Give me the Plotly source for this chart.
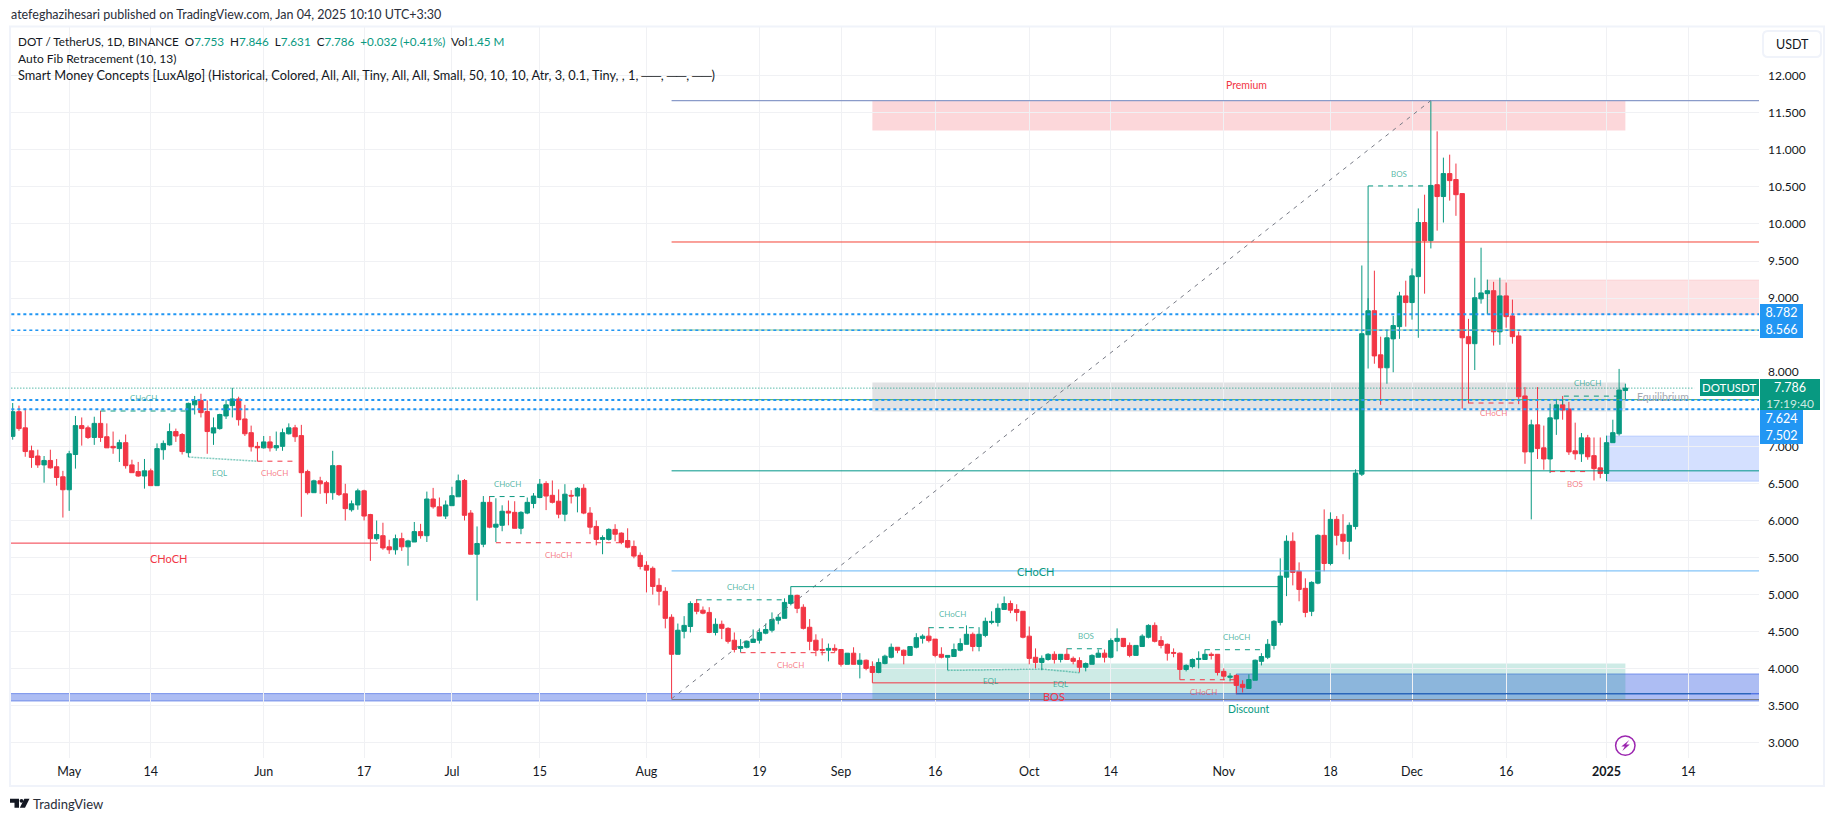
import pandas as pd
import plotly.graph_objects as go

W, H = 1835, 821
PL, PR, PT, PB = 10, 1759, 27, 757.7

first_day = "2024-04-22"
opens = [7.135,7.468,7.25,6.94,6.87,6.75,6.81,6.725,6.59,6.415,
6.89,7.28,7.25,7.12,7.31,7.13,7.0,6.97,7.05,6.75,
6.66,6.60,6.67,6.47,6.955,7.02,7.20,7.16,6.915,7.56,
7.62,7.47,7.18,7.24,7.41,7.55,7.64,7.37,7.185,7.0,
6.98,7.06,6.98,7.0,7.17,7.25,7.145,6.66,6.375,6.535,
6.51,6.375,6.74,6.36,6.145,6.21,6.40,6.08,5.755,5.795,
5.645,5.605,5.755,5.645,5.71,5.85,5.795,6.29,6.185,6.06,
6.2,6.32,6.54,6.10,5.545,5.68,6.245,5.91,5.935,6.125,
6.11,5.895,6.10,6.23,6.31,6.50,6.34,6.26,6.085,6.34,
6.33,6.435,6.10,5.92,5.745,5.745,5.88,5.83,5.73,5.65,
5.53,5.395,5.355,5.125,5.045,4.695,4.195,4.505,4.57,4.88,
4.79,4.76,4.49,4.60,4.545,4.385,4.275,4.29,4.355,4.385,
4.48,4.52,4.655,4.68,4.88,4.99,4.83,4.56,4.385,4.26,
4.25,4.275,4.26,4.06,4.21,4.06,4.115,4.03,3.95,4.07,
4.155,4.29,4.25,4.18,4.29,4.41,4.44,4.40,4.195,4.155,
4.165,4.25,4.33,4.465,4.30,4.45,4.625,4.625,4.80,4.88,
4.80,4.775,4.44,4.155,4.085,4.125,4.195,4.125,4.195,4.14,
4.11,4.02,4.06,4.155,4.21,4.155,4.37,4.41,4.315,4.18,
4.30,4.425,4.585,4.38,4.33,4.22,4.21,3.99,4.03,4.125,
4.125,4.195,4.195,3.965,3.885,3.91,3.79,3.735,3.845,4.10,
4.155,4.315,4.625,5.235,5.72,5.315,5.085,4.775,5.155,5.80,
5.42,6.015,5.815,5.72,5.92,6.625,8.506,8.83,8.235,8.06,
8.45,8.615,9.03,8.94,9.29,10.02,9.775,10.53,10.37,10.68,
10.6,10.41,8.48,8.385,8.99,9.06,9.10,8.545,9.03,8.76,
8.49,7.68,6.925,7.29,6.98,6.83,7.37,7.56,7.505,6.94,
6.90,7.115,6.875,6.71,6.635,7.05,7.17,7.753]
highs = [7.585,7.55,7.51,7.01,6.955,6.87,6.955,6.83,6.67,6.94,
7.41,7.39,7.28,7.40,7.48,7.31,7.20,7.09,7.16,6.82,
6.79,6.83,6.70,7.04,7.08,7.31,7.24,7.18,7.59,7.68,
7.71,7.62,7.39,7.44,7.63,7.79,7.67,7.56,7.28,7.06,
7.14,7.14,7.20,7.24,7.31,7.29,7.29,6.685,6.55,6.59,
6.535,6.94,6.75,6.495,6.27,6.43,6.415,6.09,6.0,5.97,
5.74,5.81,5.835,5.74,5.98,5.955,6.39,6.44,6.31,6.27,
6.455,6.62,6.56,6.14,5.92,6.33,6.33,6.30,6.205,6.27,
6.26,6.125,6.31,6.37,6.56,6.53,6.54,6.42,6.49,6.41,
6.45,6.49,6.18,6.0,5.80,5.895,5.95,5.84,5.895,5.73,
5.57,5.45,5.38,5.22,5.10,4.735,4.61,4.71,4.91,4.94,
4.84,4.83,4.68,4.65,4.56,4.49,4.40,4.385,4.53,4.545,
4.61,4.76,4.735,4.95,5.11,5.0,4.87,4.67,4.465,4.41,
4.34,4.33,4.26,4.21,4.29,4.21,4.125,4.10,4.14,4.19,
4.34,4.29,4.26,4.30,4.48,4.465,4.56,4.40,4.29,4.18,
4.34,4.41,4.585,4.49,4.56,4.69,4.775,4.88,4.975,4.92,
4.87,4.775,4.57,4.275,4.18,4.21,4.235,4.195,4.275,4.165,
4.155,4.085,4.195,4.26,4.26,4.41,4.545,4.41,4.355,4.315,
4.465,4.60,4.625,4.44,4.34,4.275,4.22,4.06,4.14,4.235,
4.26,4.22,4.195,4.005,3.94,3.925,3.845,3.925,4.125,4.21,
4.40,4.655,5.49,5.80,5.84,5.435,5.22,5.18,5.815,6.15,
6.11,6.06,6.085,5.975,6.69,9.44,9.0,9.37,8.48,8.575,
8.76,9.085,9.235,9.40,10.21,10.395,11.665,11.25,10.895,10.935,
10.815,10.41,8.72,9.275,9.68,9.25,9.22,9.275,9.21,8.98,
8.55,7.80,7.36,7.80,7.28,7.575,7.64,7.68,7.60,7.32,
7.18,7.155,7.12,7.12,7.145,7.36,8.045,7.846]
lows = [7.09,7.21,6.86,6.71,6.71,6.51,6.70,6.47,6.04,6.13,
6.70,7.01,7.10,7.02,7.06,6.98,6.90,6.79,6.70,6.645,
6.59,6.43,6.47,6.47,6.82,7.01,7.06,6.89,6.855,7.43,
7.39,6.90,7.02,7.225,7.37,7.39,7.28,7.14,6.93,6.80,
6.97,6.93,6.94,6.94,7.16,7.06,6.05,6.35,6.375,6.36,
6.225,6.28,6.33,6.0,6.12,6.145,6.0,5.455,5.73,5.605,
5.55,5.54,5.59,5.39,5.71,5.755,5.71,6.16,6.06,6.02,
6.2,6.32,6.0,5.545,4.92,5.64,5.895,5.71,5.855,5.935,
5.895,5.815,6.085,6.165,6.30,6.14,6.23,6.03,5.99,6.23,
6.11,6.085,5.815,5.665,5.545,5.73,5.72,5.68,5.625,5.49,
5.34,5.03,5.0,4.855,4.545,3.595,4.195,4.41,4.49,4.735,
4.735,4.48,4.45,4.40,4.34,4.22,4.22,4.275,4.355,4.34,
4.465,4.49,4.60,4.68,4.855,4.75,4.53,4.25,4.17,4.18,
4.10,4.22,4.03,4.06,4.06,3.87,3.98,3.94,3.94,4.06,
4.14,4.21,4.06,4.18,4.275,4.34,4.355,4.155,4.14,3.98,
4.165,4.235,4.33,4.235,4.235,4.425,4.60,4.57,4.80,4.75,
4.64,4.41,4.06,4.005,3.98,4.11,4.07,4.085,4.125,4.06,
3.95,3.965,4.06,4.155,4.085,4.14,4.235,4.29,4.155,4.18,
4.30,4.41,4.355,4.275,4.11,4.155,3.99,3.965,4.005,4.005,
4.125,4.125,3.91,3.845,3.83,3.655,3.68,3.735,3.845,4.045,
4.13,4.26,4.585,4.98,5.125,4.91,4.695,4.71,5.14,5.315,
5.395,5.665,5.545,5.475,5.88,6.6,8.05,8.115,7.56,7.845,
8.0,8.45,8.615,8.71,8.465,9.06,9.67,9.91,10.02,10.315,
10.11,7.51,7.58,8.03,8.925,8.78,8.36,8.37,8.60,8.385,
7.57,6.765,6.015,6.83,6.685,6.64,7.155,7.36,6.885,6.82,
6.79,6.82,6.54,6.57,6.53,7.05,7.145,7.631]
closes = [7.468,7.24,6.93,6.85,6.75,6.81,6.71,6.58,6.415,6.90,
7.28,7.24,7.12,7.31,7.12,6.98,6.98,7.05,6.74,6.645,
6.60,6.67,6.47,6.97,7.04,7.20,7.14,6.93,7.58,7.62,
7.455,7.20,7.25,7.43,7.56,7.64,7.36,7.17,6.995,6.98,
7.06,6.98,7.01,7.185,7.25,7.13,6.645,6.375,6.535,6.495,
6.375,6.74,6.35,6.16,6.225,6.40,6.06,5.755,5.81,5.63,
5.605,5.755,5.645,5.725,5.85,5.795,6.29,6.185,6.06,6.21,
6.335,6.535,6.07,5.545,5.69,6.245,5.91,5.95,6.125,6.10,
5.895,6.11,6.245,6.33,6.49,6.33,6.245,6.085,6.355,6.33,
6.435,6.10,5.91,5.745,5.77,5.88,5.815,5.705,5.64,5.52,
5.38,5.33,5.11,5.045,4.68,4.195,4.52,4.585,4.88,4.775,
4.75,4.49,4.60,4.545,4.37,4.26,4.30,4.37,4.40,4.49,
4.53,4.665,4.695,4.895,4.99,4.815,4.545,4.37,4.25,4.25,
4.275,4.25,4.06,4.21,4.06,4.115,4.005,3.95,4.085,4.17,
4.29,4.25,4.18,4.30,4.42,4.44,4.38,4.18,4.155,4.18,
4.26,4.34,4.465,4.30,4.465,4.64,4.64,4.815,4.88,4.79,
4.76,4.425,4.14,4.085,4.14,4.195,4.125,4.195,4.125,4.10,
4.02,4.07,4.18,4.21,4.155,4.38,4.41,4.30,4.18,4.315,
4.44,4.585,4.37,4.315,4.21,4.21,3.99,4.045,4.125,4.14,
4.195,4.18,3.95,3.90,3.90,3.775,3.75,3.855,4.115,4.165,
4.33,4.64,5.25,5.72,5.30,5.07,4.76,5.165,5.80,5.42,
6.015,5.80,5.72,5.935,6.64,8.52,8.83,8.22,8.06,8.465,
8.63,9.03,8.94,9.30,10.02,9.775,10.52,10.37,10.68,10.585,
10.395,8.465,8.385,9.005,9.07,9.10,8.545,9.03,8.75,8.48,
7.67,6.925,7.29,6.97,6.83,7.385,7.56,7.49,6.925,6.90,
7.115,6.86,6.70,6.635,7.05,7.185,7.76,7.786]

tick_dates = ["2024-05-01","2024-05-14","2024-06-01","2024-06-17","2024-07-01","2024-07-15",
              "2024-08-01","2024-08-19","2024-09-01","2024-09-16","2024-10-01","2024-10-14",
              "2024-11-01","2024-11-18","2024-12-01","2024-12-16","2025-01-01","2025-01-14"]
tick_labels = ["May","14","Jun","17","Jul","15","Aug","19","Sep","16","Oct","14","Nov","18","Dec","16","<b>2025</b>","14"]
price_ticks = [3+0.5*i for i in range(19)]
hidden_price_labels = [7.5, 8.5]  # covered by the price tags in the reference

GREEN, RED = "#089981", "#F23645"
BLUE = "#2196F3"
FONT = "Lato"
INK = "#131722"

# zones: first bar, last bar, low price, high price, fill, outline
END = 300
zones = [
    (195, END, 3.66, 3.93, "rgba(49,90,224,0.4)", "rgba(49,90,224,0.55)"),
    (-5, END, 3.565, 3.665, "rgba(49,90,224,0.4)", "rgba(49,90,224,0.55)"),
    (137, 257, 11.26, 11.665, "rgba(242,54,69,0.2)", "rgba(0,0,0,0)"),
    (137, 257, 7.47, 7.86, "rgba(120,123,134,0.22)", "rgba(0,0,0,0)"),
    (137, 257, 3.59, 4.07, "rgba(8,153,129,0.2)", "rgba(0,0,0,0)"),
    (235, END, 8.78, 9.245, "rgba(242,54,69,0.15)", "rgba(242,54,69,0.12)"),
    (254, END, 6.53, 7.14, "rgba(41,98,255,0.2)", "rgba(41,98,255,0.2)"),
]
# lines: bars, prices, colour, width, dash
lines = [
    ([105, END], [11.665, 11.665], "#8A9BC9", 1.2, "solid"),
    ([105, END], [9.757, 9.757], "#F44336", 1, "solid"),
    ([105, END], [8.57, 8.57], "#81C784", 1, "solid"),
    ([105, END], [7.63, 7.63], "#4CAF50", 1, "solid"),
    ([105, END], [6.67, 6.67], "#009688", 1, "solid"),
    ([105, END], [5.32, 5.32], "#64B5F6", 1, "solid"),
    ([105, END], [3.585, 3.585], "#787B86", 1, "solid"),
    ([195, 277], [3.665, 3.665], "#2A66B8", 1.2, "solid"),
    ([105, 226], [3.595, 11.665], "#787B86", 1, "4px,5px"),
    ([-5, END], [8.782, 8.782], BLUE, 2, "3px,3px"),
    ([-5, END], [8.566, 8.566], BLUE, 1.5, "3px,3px"),
    ([-5, END], [7.624, 7.624], BLUE, 2, "3px,3px"),
    ([-5, END], [7.502, 7.502], BLUE, 2, "3px,3px"),
    ([-5, 268], [7.786, 7.786], GREEN, 1, "1px,2px"),
    ([-5, 58.2], [5.695, 5.695], RED, 1, "solid"),
    ([14, 28], [7.477, 7.477], GREEN, 1, "5px,5px"),
    ([39, 45], [6.80, 6.80], RED, 1, "5px,5px"),
    ([76, 82], [6.323, 6.323], GREEN, 1, "5px,5px"),
    ([77, 97], [5.70, 5.70], RED, 1, "5px,5px"),
    ([109, 123], [4.93, 4.93], GREEN, 1, "5px,5px"),
    ([124, 202], [5.108, 5.108], GREEN, 1, "solid"),
    ([116, 131], [4.217, 4.217], RED, 1, "5px,5px"),
    ([146, 154], [4.554, 4.554], GREEN, 1, "5px,5px"),
    ([168, 174], [4.27, 4.27], GREEN, 1, "5px,5px"),
    ([190, 200], [4.257, 4.257], GREEN, 1, "5px,5px"),
    ([137, 137, 195], [3.95, 3.81, 3.81], RED, 1, "solid"),
    ([186, 186], [3.99, 3.852], RED, 1, "solid"),
    ([186, 195], [3.852, 3.852], RED, 1, "5px,5px"),
    ([216, 216], [10.513, 8.83], GREEN, 1, "solid"),
    ([216, 226], [10.513, 10.513], GREEN, 1, "5px,5px"),
    ([232, 240], [7.585, 7.585], RED, 1, "5px,5px"),
    ([247, 247, 256], [7.56, 7.678, 7.678], GREEN, 1, "5px,5px"),
    ([245, 251], [6.66, 6.66], RED, 1, "5px,5px"),
    ([28, 39], [6.856, 6.80], "rgba(8,153,129,0.5)", 1.5, "2px,1px"),
    ([149, 164], [3.978, 3.996], "rgba(8,153,129,0.5)", 1.5, "2px,1px"),
    ([164, 170], [3.996, 3.947], "rgba(8,153,129,0.5)", 1.5, "2px,1px"),
]
GL, RL = "rgba(8,153,129,0.7)", "rgba(242,54,69,0.65)"
# labels: bar, price, text, colour, size, anchor
labels = [
    (24.9, 5.49, "CHoCH", RED, 11, "center"), (20.9, 7.65, "CHoCH", GL, 8, "center"),
    (33, 6.64, "EQL", GL, 8, "center"), (41.8, 6.64, "CHoCH", RL, 8, "center"),
    (78.9, 6.49, "CHoCH", GL, 8, "center"), (87, 5.54, "CHoCH", RL, 8, "center"),
    (116, 5.10, "CHoCH", GL, 8, "center"), (124, 4.057, "CHoCH", RL, 8, "center"),
    (163, 5.306, "CHoCH", GREEN, 11, "center"), (149.8, 4.735, "CHoCH", GL, 8, "center"),
    (171, 4.44, "BOS", GL, 8, "center"), (195, 4.425, "CHoCH", GL, 8, "center"),
    (165.9, 3.63, "BOS", RED, 11, "center"), (155.9, 3.84, "EQL", GL, 8, "center"),
    (166.9, 3.795, "EQL", GL, 8, "center"), (189.8, 3.69, "CHoCH", RL, 8, "center"),
    (220.9, 10.68, "BOS", GL, 8, "center"), (236, 7.444, "CHoCH", RL, 8, "center"),
    (251, 7.86, "CHoCH", GL, 8, "center"), (249, 6.49, "BOS", RL, 8, "center"),
    (263, 7.67, "Equilibrium", "#A5A8B0", 10.5, "center"),
    (196.7, 11.88, "Premium", RED, 10.5, "center"), (197, 3.457, "Discount", GREEN, 10.5, "center"),
    (278.3, 11.82, "Weak Hi", RL, 7, "right"), (278.3, 3.50, "Strong L", GL, 7, "right"),
]

dates = pd.date_range(first_day, periods=len(opens), freq="D")
def bar_date(i):
    return pd.Timestamp(first_day) + pd.Timedelta(days=float(i))

def fx(px):
    return (px - PL) / (PR - PL)
def fy(py):
    return (PB - py) / (PB - PT)
def poly(points):
    return "M " + " L ".join(f"{fx(x):.5f} {fy(y):.5f}" for x, y in points) + " Z"

fig = go.Figure()
fig.add_trace(go.Candlestick(
    x=dates, open=opens, high=highs, low=lows, close=closes,
    increasing=dict(line=dict(color=GREEN, width=1), fillcolor=GREEN),
    decreasing=dict(line=dict(color=RED, width=1), fillcolor=RED),
    whiskerwidth=0, showlegend=False, hoverinfo="skip",
))
for bars, prices, color, width, dash in lines:
    fig.add_trace(go.Scatter(x=[bar_date(b) for b in bars], y=prices, mode="lines",
                             line=dict(color=color, width=width, dash=dash),
                             showlegend=False, hoverinfo="skip"))

shapes = [dict(type="rect", xref="x", yref="y", x0=bar_date(a), x1=bar_date(b), y0=lo, y1=hi,
               fillcolor=f, line=dict(color=l, width=1), layer="below")
          for a, b, lo, hi, f, l in zones]
# frame round the chart and the price scale
shapes.append(dict(type="rect", xref="paper", yref="paper", x0=fx(10), x1=fx(1824), y0=fy(785.8), y1=fy(26.5),
                   line=dict(color="#F0F3FA", width=2), fillcolor="rgba(0,0,0,0)"))
# currency button
bx0, bx1, by0, by1, r = 1763, 1821, 31, 57, 5
btn = (f"M {fx(bx0+r)} {fy(by0)} L {fx(bx1-r)} {fy(by0)} Q {fx(bx1)} {fy(by0)} {fx(bx1)} {fy(by0+r)} "
       f"L {fx(bx1)} {fy(by1-r)} Q {fx(bx1)} {fy(by1)} {fx(bx1-r)} {fy(by1)} L {fx(bx0+r)} {fy(by1)} "
       f"Q {fx(bx0)} {fy(by1)} {fx(bx0)} {fy(by1-r)} L {fx(bx0)} {fy(by0+r)} Q {fx(bx0)} {fy(by0)} {fx(bx0+r)} {fy(by0)} Z")
shapes.append(dict(type="path", xref="paper", yref="paper", path=btn, line=dict(color="#F0F3FA", width=2)))
# event icon
cx, cy = 1625.3, 745.3
shapes.append(dict(type="circle", xref="paper", yref="paper", x0=fx(cx-9.7), x1=fx(cx+9.7), y0=fy(cy+9.7), y1=fy(cy-9.7),
                   line=dict(color="#9C27B0", width=1.5), fillcolor="white"))
shapes.append(dict(type="path", xref="paper", yref="paper",
                   path=poly([(cx+4,cy-5.5),(cx-4,cy+1),(cx-0.5,cy+1),(cx-3,cy+5.5),(cx+4.5,cy-1),(cx+0.8,cy-1)]),
                   fillcolor="#9C27B0", line=dict(width=0)))
# TradingView mark
shapes.append(dict(type="path", xref="paper", yref="paper",
                   path=poly([(10,798.5),(19,798.5),(19,807.5),(14.5,807.5),(14.5,802.5),(10,802.5)]),
                   fillcolor=INK, line=dict(width=0)))
shapes.append(dict(type="path", xref="paper", yref="paper",
                   path=poly([(29.5,798.5),(25,807.5),(19.8,807.5),(24.3,798.5)]),
                   fillcolor=INK, line=dict(width=0)))
shapes.append(dict(type="circle", xref="paper", yref="paper", x0=fx(19.6), x1=fx(23.4), y0=fy(802.4), y1=fy(798.6),
                   fillcolor=INK, line=dict(width=0)))

ann = []
for b, p, t, c, s, a in labels:
    ann.append(dict(x=bar_date(b), y=p, xref="x", yref="y", text=t, showarrow=False,
                    xanchor=a, yanchor="middle", font=dict(family=FONT, size=s, color=c)))

def note(x, y, text, size=13, color=INK, anchor="left"):
    ann.append(dict(x=fx(x), y=fy(y), xref="paper", yref="paper", text=text, showarrow=False,
                    xanchor=anchor, yanchor="middle", font=dict(family=FONT, size=size, color=color)))

def g(t):
    return f'<span style="color:{GREEN}">{t}</span>'

note(9, 14.5, "atefeghazihesari published on TradingView.com, Jan 04, 2025 10:10 UTC+3:30", 12.5, "#2A2E39")
note(15.5, 41, "DOT / TetherUS, 1D, BINANCE  O" + g("7.753") + "  H" + g("7.846") + "  L" + g("7.631") +
     "  C" + g("7.786") + "  " + g("+0.032 (+0.41%)") + "  Vol" + g("1.45 M"), 11.7)
note(15.5, 58.5, "Auto Fib Retracement (10, 13)", 12)
note(15.5, 75, "Smart Money Concepts [LuxAlgo] (Historical, Colored, All, All, Tiny, All, All, Small, 50, 10, 10, Atr, 3, 0.1, Tiny, , 1, ──, ──, ──)", 12.8)
note(31, 804, "TradingView", 13, "#2A2E39")
note(1792, 44.5, "USDT", 12.5, INK, "center")

def tag(x0, x1, y0, y1, text, bg, color="white", size=12.5):
    ann.append(dict(x=fx(x0), y=fy(y0), xref="paper", yref="paper", text=text, showarrow=False,
                    xanchor="left", yanchor="top", width=x1-x0, height=y1-y0, bgcolor=bg, borderpad=0, borderwidth=0,
                    align="center", valign="middle", font=dict(family=FONT, size=size, color=color)))

tag(1760, 1803, 304, 321, "8.782", BLUE)
tag(1760, 1803, 321, 338, "8.566", BLUE)
tag(1700, 1758.5, 379, 395.7, "DOTUSDT", GREEN, size=11.5)
tag(1760, 1820, 379, 395.7, "7.786", GREEN)
tag(1760, 1820, 395.7, 410, "17:19:40", GREEN, "rgba(255,255,255,0.8)", size=12)
tag(1760, 1803, 410, 427, "7.624", BLUE)
tag(1760, 1803, 427, 443.7, "7.502", BLUE)

fig.update_layout(
    width=W, height=H, margin=dict(l=PL, r=W-PR, t=PT, b=H-PB, autoexpand=False),
    autosize=False, paper_bgcolor="white", plot_bgcolor="white", boxgap=0.3, boxgroupgap=0,
    shapes=shapes, annotations=ann, hovermode=False, showlegend=False,
    xaxis=dict(
        range=[bar_date((PL-12.7)/6.275), bar_date((PR-12.7)/6.275)], type="date",
        rangeslider=dict(visible=False), tickmode="array", tickvals=tick_dates, ticktext=tick_labels,
        showgrid=True, gridcolor="#F0F1F4", gridwidth=1, zeroline=False, showline=False, ticks="",
        tickfont=dict(family=FONT, size=12.5, color=INK), ticklabelstandoff=4,
    ),
    yaxis=dict(
        range=[4+(668.5-PB)/74.1, 4+(668.5-PT)/74.1], side="right", tickmode="array",
        tickvals=price_ticks, ticktext=["" if v in hidden_price_labels else f"{v:.3f}" for v in price_ticks],
        showgrid=True, gridcolor="#F0F1F4", gridwidth=1, zeroline=False, showline=False, ticks="",
        tickfont=dict(family=FONT, size=12, color=INK), ticklabelstandoff=8,
    ),
    font=dict(family=FONT),
)
fig.write_html("out.html", config=dict(displayModeBar=False),
               post_script="document.body.style.margin='0';document.body.style.padding='0';")
